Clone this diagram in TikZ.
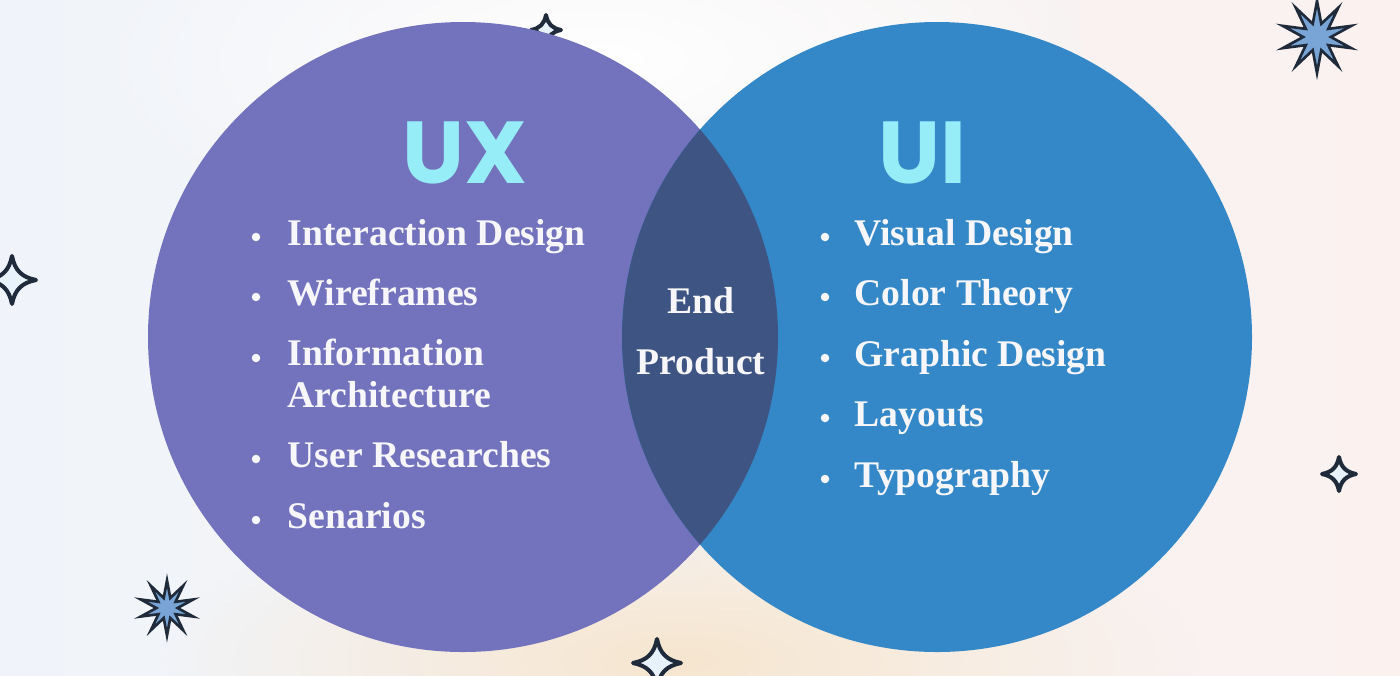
\documentclass[tikz,border=0pt]{standalone}
\usepackage{fontspec}
\setmainfont{Liberation Serif}
\newfontfamily\headfont{Poppins}
\usetikzlibrary{shapes.geometric, fadings}
\definecolor{cPurple}{HTML}{7372BD}
\definecolor{cBlue}{HTML}{3488C7}
\definecolor{cLens}{HTML}{3E5483}
\definecolor{cCyan}{HTML}{97EDF7}
\definecolor{cInk}{HTML}{1F2A3A}
\definecolor{cStar}{HTML}{78A5D6}
\definecolor{cSpark}{HTML}{E8F2FC}
\definecolor{cBgL}{HTML}{F0F4FA}
\definecolor{cBgR}{HTML}{FBF2EF}
\definecolor{cPeach}{HTML}{F7E6CF}
\definecolor{cText}{HTML}{F7F6FB}
\tikzfading[name=softblob, inner color=transparent!0, outer color=transparent!100]
\tikzset{
  head/.style={font=\headfont\bfseries\fontsize{25}{25}\selectfont,
    text=cCyan, inner sep=0pt, anchor=base},
  listitem/.style={font=\bfseries\fontsize{10.7}{11.7}\selectfont,
    text=cText, inner sep=0pt, anchor=base west, align=left},
  midtxt/.style={font=\bfseries\fontsize{10.7}{11.7}\selectfont,
    text=cText, inner sep=0pt, anchor=base},
  bulletdot/.style={circle, fill=cText, inner sep=0pt, minimum size=0.085cm},
  burst/.style={star, star points=10, star point ratio=2.6, draw=cInk,
    line width=0.75pt, fill=cStar, inner sep=0pt, minimum size=#1},
  sparkle/.pic={
    \draw[draw=cInk, line width=1.15pt, fill=cSpark, line join=round]
      (0,1) .. controls (0.12,0.4) and (0.4,0.12) .. (1,0)
      .. controls (0.4,-0.12) and (0.12,-0.4) .. (0,-1)
      .. controls (-0.12,-0.4) and (-0.4,-0.12) .. (-1,0)
      .. controls (-0.4,0.12) and (-0.12,0.4) .. cycle;
  },
}

\begin{document}
\begin{tikzpicture}[x=0.01cm, y=-0.01cm]

  % Background
  \useasboundingbox (0,0) rectangle (1400,675);
  \clip (0,0) rectangle (1400,675);
  \shade[left color=cBgL, right color=cBgR] (0,0) rectangle (1400,675);
  \fill[white, path fading=softblob] (600,60) ellipse (520 and 200);
  \fill[cPeach, path fading=softblob] (680,660) ellipse (520 and 170);

  % Decorations
  \pic (sparkA) [scale=24] at (12,280) {sparkle};
  \pic (sparkB) [scale=15] at (546,30) {sparkle};
  \pic (sparkC) [scale=24] at (657,663) {sparkle};
  \pic (sparkD) [scale=17] at (1339,474) {sparkle};
  \node[burst=0.72cm] (burstA) at (1317,37) {};
  \node[burst=0.55cm] (burstB) at (167,608) {};

  % Circles
  \fill[cPurple] (463,337) circle (315);
  \fill[cBlue] (937,337) circle (315);
  \begin{scope}
    \clip (463,337) circle (315);
    \fill[cLens] (937,337) circle (315);
  \end{scope}

  % Headings
  \node[head] (uxhead) at (465,183) {UX};
  \node[head] (uihead) at (922,183) {UI};

  % UX list (dot line / last baseline / text)
  \foreach \yd/\yb/\txt [count=\i] in {245/245/Interaction Design,
      305/305/Wireframes, 366/407/{Information\\Architecture},
      467/467/User Researches, 528/528/Senarios} {
    \node[bulletdot] (uxdot\i) at (256,\yd-8) {};
    \node[listitem] (uxitem\i) at (287,\yb) {\txt};
  }

  % UI list
  \foreach \yb/\txt [count=\i] in {245/Visual Design, 305/Color Theory,
      366/Graphic Design, 426/Layouts, 487/Typography} {
    \node[bulletdot] (uidot\i) at (825,\yb-8) {};
    \node[listitem] (uiitem\i) at (854,\yb) {\txt};
  }

  % Overlap
  \node[midtxt] (endtxt) at (701,313) {End};
  \node[midtxt] (prodtxt) at (701,374) {Product};

\end{tikzpicture}
\end{document}
